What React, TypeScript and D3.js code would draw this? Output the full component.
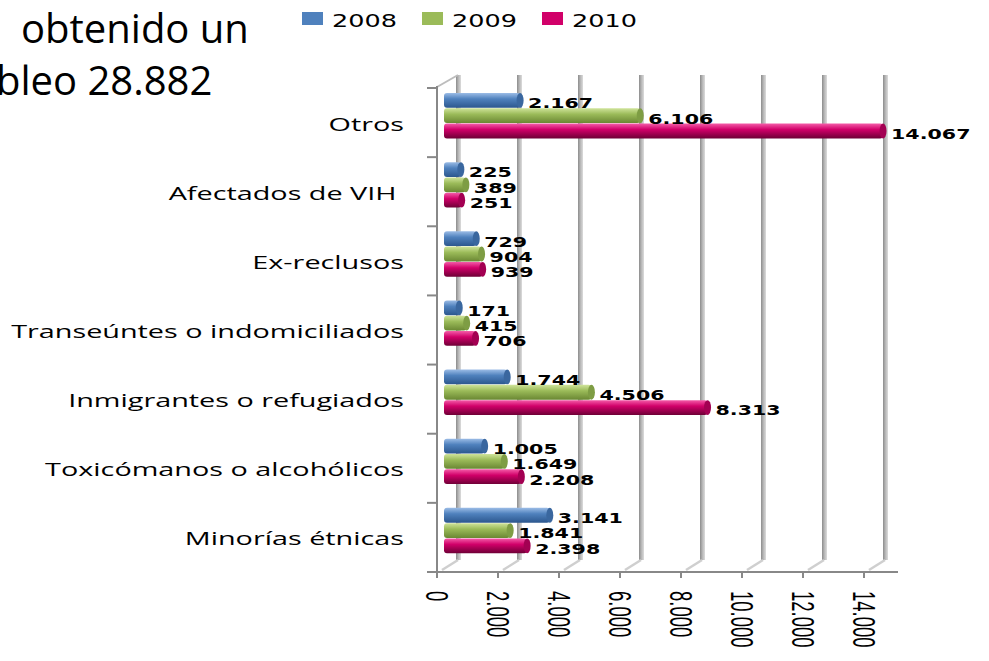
import React from "react";
import * as d3 from "d3";

const categories = [
  "Otros",
  "Afectados de VIH ",
  "Ex-reclusos",
  "Transeúntes o indomiciliados",
  "Inmigrantes o refugiados",
  "Toxicómanos o alcohólicos",
  "Minorías étnicas",
];
const years = ["2008", "2009", "2010"];
const values2008 = [2167, 225, 729, 171, 1744, 1005, 3141];
const values2009 = [6106, 389, 904, 415, 4506, 1649, 1841];
const values2010 = [14067, 251, 939, 706, 8313, 2208, 2398];
const tickValues = [0, 2000, 4000, 6000, 8000, 10000, 12000, 14000];

const series = [values2008, values2009, values2010];
const colors = ["#4F81BD", "#9BBB59", "#D10069"];
const shades = [
  { light: "#9BBCE6", dark: "#2C578E", cap: "#3A679F" },
  { light: "#CFE39A", dark: "#6A8733", cap: "#7E9D44" },
  { light: "#F45CA8", dark: "#6E0036", cap: "#A30052" },
];

const W = 989;
const H = 661;

// depth offsets for the fake 3D look
const wallDx = 21;
const wallDy = -12;
const barDx = 17;

const es = d3.formatLocale({
  decimal: ",",
  thousands: ".",
  grouping: [3],
  currency: ["", " €"],
});
const fmt = es.format(",");

const x = d3.scaleLinear().domain([0, 14000]).range([437, 864]);
const y = d3.scaleBand<string>().domain(categories).range([88, 572]);

const barH = 15.3;
const barTop = 5;
const bottom = 572;
const top = 75;

export default function App() {
  return (
    <svg
      width={W}
      height={H}
      style={{ position: "absolute", left: 0, top: 0, display: "block", background: "#fff" }}
    >
      <defs>
        {shades.map((s, i) => (
          <linearGradient key={i} id={`bar${i}`} x1="0" y1="0" x2="0" y2="1">
            <stop offset="0%" stopColor={s.light} />
            <stop offset="40%" stopColor={colors[i]} />
            <stop offset="100%" stopColor={s.dark} />
          </linearGradient>
        ))}
        <linearGradient id="grid" x1="0" y1="0" x2="1" y2="0">
          <stop offset="0%" stopColor="#8c8c8c" />
          <stop offset="50%" stopColor="#b8b8b8" />
          <stop offset="100%" stopColor="#dcdcdc" />
        </linearGradient>
      </defs>

      {/* heading text cut off on the left */}
      <g fontFamily="'Open Sans', sans-serif" fontSize={40} fill="#000">
        <text x={21} y={43}>obtenido un</text>
        <text x={-4} y={95}>bleo 28.882</text>
      </g>

      {/* legend */}
      <g fontFamily="'DejaVu Sans', sans-serif" fontSize={17}>
        {years.map((yr, i) => (
          <g key={yr}>
            <rect x={302 + i * 120} y={12} width={21} height={13} fill={colors[i]} />
            <text transform={`translate(${332 + i * 120},26.5) scale(1.5,1)`}>{yr}</text>
          </g>
        ))}
      </g>

      {/* back wall gridlines */}
      {tickValues.map((t) => (
        <g key={t}>
          <rect x={x(t) + wallDx - 2} y={top} width={5} height={bottom + wallDy - top} fill="url(#grid)" />
          <line
            x1={x(t) + 5}
            y1={bottom - 2}
            x2={x(t) + wallDx}
            y2={bottom + wallDy}
            stroke="#cfcfcf"
            strokeWidth={2.5}
          />
        </g>
      ))}
      <line x1={437} y1={87} x2={437 + wallDx} y2={top} stroke="#bdbdbd" strokeWidth={2} />

      {/* axes */}
      <line x1={437} y1={86} x2={437} y2={bottom} stroke="#888" strokeWidth={2} />
      <line x1={427} y1={bottom} x2={898} y2={bottom} stroke="#888" strokeWidth={2} />
      {categories.map((c) => (
        <line key={c} x1={427} y1={y(c)!} x2={437} y2={y(c)!} stroke="#888" strokeWidth={2} />
      ))}
      {tickValues.map((t) => (
        <line key={t} x1={x(t)} y1={bottom} x2={x(t)} y2={bottom + 6} stroke="#888" strokeWidth={2} />
      ))}

      {/* bars */}
      {categories.map((c, ci) =>
        series.map((vals, si) => {
          const y0 = y(c)! + barTop + si * barH;
          const x0 = 444;
          const x1 = x(vals[ci]) + barDx;
          return (
            <g key={`${c}-${si}`}>
              <rect x={x0} y={y0} width={Math.max(1, x1 - x0)} height={barH - 0.5} rx={3} fill={`url(#bar${si})`} />
              <ellipse cx={x1} cy={y0 + (barH - 0.5) / 2} rx={3.5} ry={(barH - 0.5) / 2} fill={shades[si].cap} />
            </g>
          );
        })
      )}

      {/* data labels */}
      <g fontFamily="'DejaVu Sans', sans-serif" fontWeight="bold" fontSize={14.5} fill="#000">
        {categories.map((c, ci) =>
          series.map((vals, si) => {
            const y0 = y(c)! + barTop + si * barH;
            const x1 = x(vals[ci]) + barDx;
            return (
              <text key={`${c}-l${si}`} transform={`translate(${x1 + 8},${y0 + barH}) scale(1.42,1)`}>
                {fmt(vals[ci])}
              </text>
            );
          })
        )}
      </g>

      {/* category labels */}
      <g fontFamily="'Open Sans', sans-serif" fontSize={18} fill="#000">
        {categories.map((c) => (
          <text
            key={c}
            textAnchor="end"
            style={{ whiteSpace: "pre" }}
            transform={`translate(404,${y(c)! + y.bandwidth() / 2 + 8}) scale(1.6,1)`}
          >
            {c}
          </text>
        ))}
      </g>

      {/* value axis labels, rotated */}
      <g fontFamily="'Liberation Sans', Arial, sans-serif" fontSize={18.5} fill="#000">
        {tickValues.map((t) => (
          <text key={t} dy="0.35em" transform={`translate(${x(t)},591) scale(1.65,1) rotate(90)`}>
            {fmt(t)}
          </text>
        ))}
      </g>
    </svg>
  );
}
